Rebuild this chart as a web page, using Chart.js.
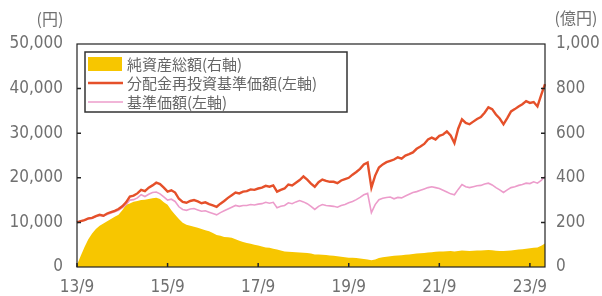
<!DOCTYPE html>
<html>
<head>
<meta charset="utf-8">
<script src="https://cdn.jsdelivr.net/npm/chart.js@4"></script>
<style>body{margin:0;background:#fff}</style>
</head>
<body>
<canvas id="navChart" width="602" height="296"></canvas>
<script>
// monthly points, 2013/9 - 2024/1
const months = [];
let yr = 2013, mo = 9;
while (months.length < 125) {
  months.push(String(yr).slice(2) + '/' + mo);
  mo++;
  if (mo > 12) { mo = 1; yr++; }
}
const tickLabels = ['13/9', '15/9', '17/9', '19/9', '21/9', '23/9'];

// 分配金再投資基準価額 (円)
const reinvNav = [
  10000, 10300, 10500, 10900, 11000, 11400, 11700, 11500, 12000, 12300, 12600, 13000,
  13600, 14500, 15800, 16000, 16500, 17300, 17000, 17800, 18300, 18900, 18600, 17800,
  16900, 17200, 16700, 15300, 14600, 14400, 14800, 15000, 14700, 14300, 14500, 14100,
  13800, 13500, 14200, 14800, 15500, 16100, 16700, 16500, 16900, 17000, 17400, 17300,
  17600, 17800, 18200, 18000, 18300, 16900, 17300, 17600, 18500, 18300, 18900, 19500,
  20300, 19600, 18700, 18000, 19000, 19600, 19300, 19100, 19100, 18800, 19400, 19700,
  20000, 20700, 21300, 22000, 23000, 23400, 17800, 20500, 22300, 23000, 23500, 23800,
  24100, 24600, 24300, 25000, 25300, 25700, 26500, 27000, 27600, 28600, 29000, 28600,
  29400, 29700, 30400, 29500, 27800, 31000, 33100, 32300, 32000, 32600, 33200, 33600,
  34600, 35800, 35400, 34200, 33300, 32000, 33400, 34900, 35400, 36000, 36500, 37200,
  36800, 37000, 36000, 38600, 41000
];
// 基準価額 (円)
const nav = [
  10000, 10300, 10500, 10800, 10900, 11300, 11600, 11400, 11800, 12100, 12400, 12700,
  13300, 14000, 15000, 15100, 15500, 16200, 15800, 16300, 16700, 16800, 16400, 15700,
  15000, 15200, 14700, 13500, 12900, 12700, 13000, 13100, 12800, 12500, 12600, 12300,
  12000, 11700, 12200, 12600, 13000, 13400, 13800, 13600, 13800, 13800, 14000, 13900,
  14100, 14200, 14500, 14300, 14500, 13300, 13600, 13800, 14400, 14200, 14600, 14900,
  14600, 14200, 13600, 12900, 13600, 14000, 13800, 13700, 13600, 13400, 13800, 14000,
  14400, 14700, 15100, 15600, 16200, 16500, 12200, 14000, 15100, 15400, 15600, 15700,
  15300, 15600, 15500, 15900, 16300, 16700, 16900, 17200, 17500, 17800, 18000, 17800,
  17600, 17200, 16800, 16400, 16200, 17400, 18500, 18000, 17800, 18000, 18200, 18300,
  18600, 18800, 18400, 17800, 17300, 16700, 17300, 17800, 18000, 18300, 18500, 18800,
  18700, 19100, 18800, 19400, 20300
];
// 純資産総額 (億円)
const netAssets = [
  10, 50, 90, 125, 150, 170, 185, 195, 205, 215, 225, 234,
  255, 279, 285, 293, 296, 300, 302, 305, 308, 311, 305, 290,
  279, 255, 234, 215, 198, 190, 185, 180, 176, 170, 165, 160,
  152, 144, 140, 135, 133, 131, 125, 118, 112, 108, 104, 100,
  96, 92, 88, 86, 82, 78, 74, 70, 68, 67, 66, 65,
  64, 63, 60, 56, 56, 55, 54, 52, 50, 48, 46, 44,
  42, 41, 40, 38, 36, 34, 30, 34, 40, 44, 46, 48,
  50, 52, 53, 55, 56, 58, 60, 62, 63, 65, 66, 68,
  70, 70, 71, 72, 70, 72, 74, 73, 72, 73, 74, 74,
  75, 76, 75, 73, 72, 72, 73, 74, 76, 78, 80, 82,
  84, 86, 88, 95, 105
];

const font = { family: "'DejaVu Sans Condensed', 'DejaVu Sans', sans-serif", size: 17 };
const textColor = '#707070';

// frame, inward tick marks, unit labels and the boxed legend
const decorations = {
  id: 'decorations',
  afterDraw(chart) {
    const { ctx, chartArea: a, scales } = chart;
    ctx.save();
    ctx.strokeStyle = '#222';
    ctx.lineWidth = 1.2;
    ctx.strokeRect(a.left, a.top, a.right - a.left, a.bottom - a.top);

    ctx.lineWidth = 1.5;
    ctx.beginPath();
    tickLabels.forEach(l => {
      const px = scales.x.getPixelForValue(months.indexOf(l));
      ctx.moveTo(px, a.bottom); ctx.lineTo(px, a.bottom - 4);
    });
    scales.y.ticks.slice(1, -1).forEach(t => {
      const py = scales.y.getPixelForValue(t.value);
      ctx.moveTo(a.left, py); ctx.lineTo(a.left + 4, py);
    });
    scales.y1.ticks.slice(1, -1).forEach(t => {
      const py = scales.y1.getPixelForValue(t.value);
      ctx.moveTo(a.right, py); ctx.lineTo(a.right - 4, py);
    });
    ctx.stroke();

    ctx.fillStyle = textColor;
    ctx.font = "16px 'Noto Sans CJK JP'";
    ctx.textAlign = 'center';
    ctx.textBaseline = 'middle';
    ctx.fillText('(円)', 50, 19);
    ctx.fillText('(億円)', 576, 18);

    // legend
    const lx = a.left + 8, ly = a.top + 8;
    ctx.strokeStyle = '#333';
    ctx.lineWidth = 1.5;
    ctx.fillStyle = '#fff';
    ctx.fillRect(lx, ly, 262, 60);
    ctx.strokeRect(lx, ly, 262, 60);
    const ds = chart.data.datasets;
    const rows = [ds[2], ds[0], ds[1]];
    ctx.font = "15px 'Noto Sans CJK JP'";
    ctx.textAlign = 'left';
    rows.forEach((d, i) => {
      const cy = ly + 12 + i * 19;
      if (d.fill) {
        ctx.fillStyle = d.backgroundColor;
        ctx.fillRect(lx + 3, cy - 7, 34, 14);
      } else {
        ctx.strokeStyle = d.borderColor;
        ctx.lineWidth = d.borderWidth;
        ctx.beginPath();
        ctx.moveTo(lx + 3, cy); ctx.lineTo(lx + 38, cy);
        ctx.stroke();
      }
      ctx.fillStyle = '#666';
      ctx.fillText(d.label, lx + 42, cy);
    });
    ctx.restore();
  }
};

new Chart('navChart', {
  type: 'line',
  data: {
    labels: months,
    datasets: [{
      label: '分配金再投資基準価額(左軸)',
      data: reinvNav,
      yAxisID: 'y',
      borderColor: '#E5502A',
      borderWidth: 2.4,
      pointRadius: 0,
      fill: false,
      order: 0
    }, {
      label: '基準価額(左軸)',
      data: nav,
      yAxisID: 'y',
      borderColor: '#EC9CCB',
      borderWidth: 1.6,
      pointRadius: 0,
      fill: false,
      order: 1
    }, {
      label: '純資産総額(右軸)',
      data: netAssets,
      yAxisID: 'y1',
      backgroundColor: '#F7C600',
      borderColor: '#F7C600',
      borderWidth: 0,
      pointRadius: 0,
      fill: 'origin',
      order: 2
    }]
  },
  options: {
    responsive: false,
    animation: false,
    layout: { padding: { top: 44, left: 0, right: 0, bottom: 0 } },
    plugins: { legend: { display: false }, tooltip: { enabled: false } },
    scales: {
      x: {
        grid: { display: false, drawTicks: false },
        border: { display: false },
        ticks: {
          autoSkip: false, maxRotation: 0, padding: 10,
          color: textColor, font,
          callback(v) { const l = this.getLabelForValue(v); return tickLabels.includes(l) ? l : ''; }
        },
        afterFit(s) { s.height = 29; }
      },
      y: {
        position: 'left', min: 0, max: 50000,
        grid: { display: false, drawTicks: false },
        border: { display: false },
        ticks: { stepSize: 10000, padding: 14, color: textColor, font,
          callback: v => v.toLocaleString('en-US') },
        afterFit(s) { s.width = 77; }
      },
      y1: {
        position: 'right', min: 0, max: 1000,
        grid: { display: false, drawTicks: false },
        border: { display: false },
        ticks: { stepSize: 200, padding: 11, color: textColor, font,
          callback: v => v.toLocaleString('en-US') },
        afterFit(s) { s.width = 57; }
      }
    }
  },
  plugins: [decorations]
});
</script>
</body>
</html>
